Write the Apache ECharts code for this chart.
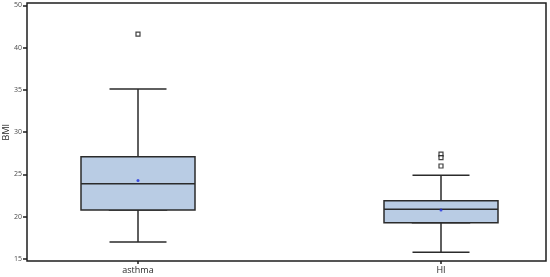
<!DOCTYPE html>
<html>
<head>
<meta charset="utf-8">
<script src="https://cdn.jsdelivr.net/npm/echarts@6/dist/echarts.min.js"></script>
<style>html,body{margin:0;padding:0;background:#fff}#c{width:550px;height:277px}</style>
</head>
<body>
<div id="c"></div>
<script>
var categories = ['asthma', 'HI'];
var whiskerLow = [17.0, 15.8];
var q1 = [20.8, 19.3];
var median = [23.9, 20.9];
var q3 = [27.1, 21.9];
var whiskerHigh = [35.1, 24.9];
var means = [24.3, 20.8];
var outliersAsthma = [41.6];
var outliersHI = [27.4, 27.0, 26.0];
var yTickLabels = ['15', '20', '25', '30', '35', '40', '50'];
var yMin = 15, yMax = 45, yStep = 5;

var boxLine = '#2b2b2b';
var boxFill = '#b9cce4';

var whiskerData = categories.map(function (c, i) {
  return [whiskerLow[i], q1[i], median[i], q3[i], whiskerHigh[i]];
});
var bodyData = categories.map(function (c, i) {
  return [q1[i], q1[i], median[i], q3[i], q3[i]];
});
var meanData = categories.map(function (c, i) { return [i, means[i]]; });
var outlierData = outliersAsthma.map(function (v) { return [0, v]; })
  .concat(outliersHI.map(function (v) { return [1, v]; }));

function g(o) { o.outerBoundsMode = 'none'; o.containLabel = false; return o; }

var option = {
  animation: false,
  backgroundColor: '#fff',
  grid: [
    g({ left: 27, right: 4, top: 3, bottom: 16, show: true, borderColor: '#1e1e1e', borderWidth: 1.5, backgroundColor: 'transparent' }),
    g({ left: 27, right: 4, top: 5.4, bottom: 18 }),
    g({ left: 138, right: 109, top: 5.4, bottom: 18 }),
    g({ left: 138, right: 109, top: 5.4, bottom: 18 })
  ],
  xAxis: [
    { gridIndex: 0, type: 'value', show: false, min: 0, max: 1 },
    { gridIndex: 1, type: 'value', show: false, min: 0, max: 1 },
    {
      gridIndex: 2, type: 'category', data: categories, boundaryGap: false, offset: 2,
      axisLine: { show: false },
      axisTick: { show: true, length: 3, lineStyle: { color: '#1e1e1e', width: 1.5 } },
      axisLabel: { color: '#2a2a2a', fontSize: 9, margin: 5, fontFamily: 'Open Sans' },
      splitLine: { show: false }
    },
    { gridIndex: 3, type: 'category', data: categories, boundaryGap: false, show: false }
  ],
  yAxis: [
    { gridIndex: 0, type: 'value', show: false, min: 0, max: 1 },
    {
      gridIndex: 1, type: 'value', min: yMin, max: yMax, interval: yStep,
      name: 'BMI', nameLocation: 'middle', nameGap: 16, nameRotate: 90, nameMoveOverlap: false,
      nameTextStyle: { color: '#2a2a2a', fontSize: 9, fontFamily: 'Open Sans' },
      axisLine: { show: false },
      axisTick: { show: true, length: 4, lineStyle: { color: '#1e1e1e', width: 1.5 } },
      axisLabel: {
        color: '#4a4a4a', fontSize: 7, margin: 5, fontFamily: 'Open Sans',
        formatter: function (v) { return yTickLabels[Math.round((v - yMin) / yStep)]; }
      },
      splitLine: { show: false }
    },
    { gridIndex: 2, type: 'value', min: yMin, max: yMax, show: false },
    { gridIndex: 3, type: 'value', min: yMin, max: yMax, show: false }
  ],
  series: [
    {
      type: 'boxplot', xAxisIndex: 3, yAxisIndex: 3, data: whiskerData,
      boxWidth: [57, 57],
      itemStyle: { color: boxFill, borderColor: boxLine, borderWidth: 1.5 },
      z: 1
    },
    {
      type: 'boxplot', xAxisIndex: 2, yAxisIndex: 2, data: bodyData,
      boxWidth: [114, 114],
      itemStyle: { color: boxFill, borderColor: boxLine, borderWidth: 1.5 },
      z: 2
    },
    {
      type: 'scatter', xAxisIndex: 2, yAxisIndex: 2, data: meanData,
      symbol: 'circle', symbolSize: 3,
      itemStyle: { color: '#1f2fe0' }, z: 5
    },
    {
      type: 'scatter', xAxisIndex: 2, yAxisIndex: 2, data: outlierData,
      symbol: 'rect', symbolSize: 4,
      itemStyle: { color: '#ffffff', borderColor: '#111', borderWidth: 1.2 }, z: 5
    }
  ]
};
var chart = echarts.init(document.getElementById('c'), null, { renderer: 'canvas' });
chart.setOption(option);
</script>
</body>
</html>
